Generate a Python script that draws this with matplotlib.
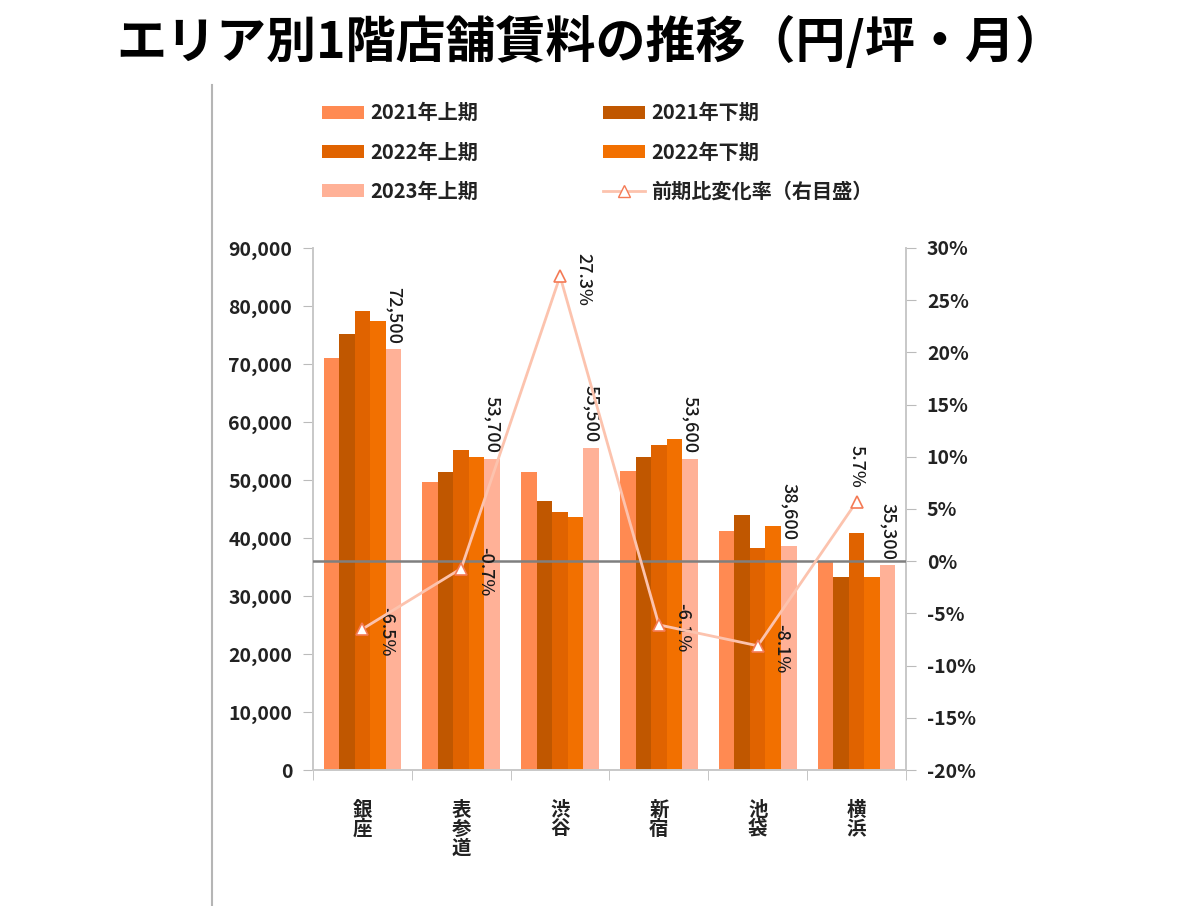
import matplotlib
matplotlib.use("Agg")
import matplotlib.pyplot as plt
import numpy as np
from matplotlib.lines import Line2D
from matplotlib.patches import Patch

plt.rcParams['font.family'] = ['Noto Sans CJK JP', 'DejaVu Sans']

areas = ["銀座", "表参道", "渋谷", "新宿", "池袋", "横浜"]
series_names = ["2021年上期", "2021年下期", "2022年上期", "2022年下期", "2023年上期"]
h2021_1 = [71000, 49700, 51300, 51500, 41200, 35900]
h2021_2 = [75100, 51400, 46400, 53900, 44000, 33300]
h2022_1 = [79100, 55200, 44500, 56100, 38200, 40800]
h2022_2 = [77400, 54000, 43700, 57000, 42100, 33300]
h2023_1 = [72500, 53700, 55500, 53600, 38600, 35300]
change_pct = [-6.5, -0.7, 27.3, -6.1, -8.1, 5.7]
change_label = "前期比変化率（右目盛）"
title = "エリア別1階店舗賃料の推移（円/坪・月）"

left_ticks = list(range(0, 90001, 10000))
right_ticks = list(range(-20, 31, 5))

colors = ["#FF8A52", "#C05700", "#E06300", "#F27000", "#FFB197"]
line_color = "#FCC3AE"
marker_edge = "#F47A55"

series = [h2021_1, h2021_2, h2022_1, h2022_2, h2023_1]

fig = plt.figure(figsize=(12, 9.06), dpi=100)
ax = fig.add_axes([0.2608, 0.1501, 0.4942, 0.5762])
ax2 = ax.twinx()

x = np.arange(len(areas))
w = 0.157
for i, (vals, c) in enumerate(zip(series, colors)):
    ax.bar(x + (i - 2) * w, vals, width=w, color=c, edgecolor='none', zorder=2)

lab_kw = dict(fontsize=13, color='#1A1A1A', fontweight='medium')

# value labels for latest period
for xi, v in zip(x, h2023_1):
    ax.annotate(f"{v:,}", (xi + 2 * w, v), xytext=(0, 4), textcoords='offset points',
                rotation=-90, ha='center', va='bottom', **lab_kw)

ax.set_xlim(-0.5, len(areas) - 0.5)
ax.set_ylim(0, 90000)
ax.set_yticks(left_ticks)
ax.set_yticklabels([f"{t:,}" for t in left_ticks])
ax.set_xticks(x)
ax.set_xticklabels(["\n".join(a) for a in areas], va='top', linespacing=1.0)
ax.set_xticks(np.arange(-0.5, len(areas), 1.0), minor=True)
ax.tick_params(axis='x', which='major', length=0, pad=22, labelsize=14)
ax.tick_params(axis='x', which='minor', length=7, color='#BBBBBB')
ax.tick_params(axis='y', length=7, color='#BBBBBB', pad=8, labelsize=14)
for lab in ax.get_yticklabels() + ax.get_xticklabels():
    lab.set_fontweight('bold')
    lab.set_color('#222222')

ax.spines['top'].set_visible(False)
ax2.spines['top'].set_visible(False)
for a in (ax, ax2):
    for sp in ['left', 'right', 'bottom']:
        a.spines[sp].set_color('#C8C8C8')
        a.spines[sp].set_linewidth(1.2)

ax2.set_ylim(-20, 30)
ax2.set_yticks(right_ticks)
ax2.set_yticklabels([f"{t}%" for t in right_ticks])
ax2.tick_params(axis='y', length=7, color='#BBBBBB', pad=8, labelsize=14)
for lab in ax2.get_yticklabels():
    lab.set_fontweight('bold')
    lab.set_color('#222222')

ax2.axhline(0, color='#7F7F7F', lw=1.8, zorder=3)
ax2.plot(x, change_pct, color=line_color, lw=2, marker='^', markersize=9,
         markerfacecolor='white', markeredgecolor=marker_edge, markeredgewidth=1.2, zorder=4)
for xi, v in zip(x, change_pct):
    if 0 < v < 10:
        ax2.annotate(f"{v}%", (xi, v), xytext=(0, 10), textcoords='offset points',
                     rotation=-90, ha='center', va='bottom', **lab_kw)
    else:
        ax2.annotate(f"{v}%", (xi, v), xytext=(17, -2), textcoords='offset points',
                     rotation=-90, ha='center', va='center', **lab_kw)

# legend
handles = [Patch(facecolor=c, edgecolor='none') for c in colors]
line_h = Line2D([0], [0], color=line_color, lw=2, marker='^', markersize=8,
                markerfacecolor='white', markeredgecolor=marker_edge)
order_h = [handles[0], handles[2], handles[4], handles[1], handles[3], line_h]
order_l = [series_names[0], series_names[2], series_names[4], series_names[1], series_names[3], change_label]
leg = fig.legend(order_h, order_l, ncol=2, loc='upper left', bbox_to_anchor=(0.253, 0.907),
                 frameon=False, handlelength=2.1, handleheight=0.65, handletextpad=0.3,
                 columnspacing=6.2, labelspacing=0.9,
                 prop={'family': ['Noto Sans CJK JP', 'DejaVu Sans'], 'size': 14.5, 'weight': 'bold'})
for t in leg.get_texts():
    t.set_color('#222222')

fig.text(0.4925, 0.953, title, ha='center', va='center', fontsize=36, fontweight='bold', color='black')

# separator line
fig.add_artist(Line2D([0.1767, 0.1767], [0.0, 0.906], color='#B5B5B5', lw=1.5))

fig.savefig("out.png", dpi=100)
